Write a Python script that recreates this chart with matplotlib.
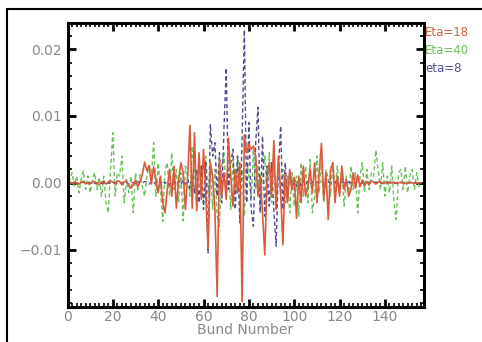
import numpy as np
import matplotlib
matplotlib.use("Agg")
import matplotlib.pyplot as plt
from matplotlib.ticker import MultipleLocator
from matplotlib.patches import Rectangle

bunch = list(range(157))

eta18 = [
    0, 0.0001, -0.0001, 0.0001, 0, -0.0002, 0.0001, 0.0002, -0.0001, 0,
    -0.0002, 0.0001, 0.0002, -0.0001, -0.0003, 0.0001, 0.0002, -0.0002, 0.0001, 0.0003,
    0.0001, -0.0002, 0.0003, 0.0002, -0.0003, 0.0001, 0.0003, -0.0004, -0.0008, -0.0003,
    0.0004, -0.0006, 0.0002, 0.0012, 0.0031, 0.0018, 0.0026, -0.0002, 0.0024, 0.0005,
    -0.0015, 0.0010, -0.0030, -0.0045, -0.0010, 0.0020, -0.0020, 0.0025, -0.0038, 0.0005,
    0.0030, 0.0015, -0.0040, 0.0010, 0.0086, -0.0038, 0.0075, -0.0042, 0.0045, -0.0025,
    0.0050, -0.0020, -0.0098, 0.0030, 0.0010, -0.0040, -0.0170, 0.0035, -0.0020, 0.0015,
    -0.0025, 0.0067, 0.0010, -0.0035, 0.0020, -0.0015, 0.0030, -0.0178, 0.0072, 0.0045,
    0.0058, 0.0050, 0.0055, 0.0040, -0.0020, 0.0010, -0.0045, -0.0108, 0.0005, 0.0030,
    -0.0020, 0.0063, -0.0040, 0.0040, -0.0015, -0.0093, 0.0015, -0.0030, 0.0020, -0.0010,
    0.0008, -0.0053, 0.0010, -0.0030, 0.0025, -0.0020, -0.0005, 0.0020, -0.0015, 0.0030,
    -0.0030, 0.0015, 0.0059, -0.0025, 0.0015, -0.0055, 0.0020, 0.0030, -0.0030, 0.0010,
    -0.0020, 0.0025, -0.0010, 0.0005, -0.0020, -0.0010, 0.0015, -0.0008, 0.0012, -0.0006,
    0.0004, -0.0005, 0.0002, -0.0003, 0.0003, 0.0001, -0.0002, 0.0001, 0.0002, -0.0001,
    0.0001, -0.0001, 0.0001, 0, 0.0001, -0.0001, 0, 0.0001, 0, -0.0001,
    0, 0.0001, 0, -0.0001, 0, 0, 0,
]

eta40 = [
    -0.0010, 0.0005, 0.0015, -0.0005, 0.0010, -0.0015, 0.0005, 0.0018, -0.0010, 0.0010,
    -0.0015, 0.0005, 0.0015, -0.0010, 0.0008, -0.0020, 0.0010, -0.0030, -0.0045, 0.0020,
    0.0075, -0.0020, 0.0015, 0.0010, 0.0040, -0.0030, 0.0005, -0.0015, 0.0010, -0.0045,
    0.0015, -0.0010, 0.0012, -0.0005, -0.0020, 0.0010, 0.0025, 0.0010, 0.0060, -0.0020,
    0.0030, -0.0010, -0.0058, 0.0020, 0.0030, -0.0020, 0.0045, -0.0010, 0.0020, -0.0030,
    0.0015, -0.0057, 0.0025, 0.0010, -0.0020, 0.0055, 0.0015, -0.0035, 0.0040, 0.0005,
    -0.0030, 0.0040, -0.0015, 0.0030, -0.0040, 0.0020, -0.0050, -0.0065, 0.0025, 0.0045,
    -0.0020, 0.0020, -0.0040, 0.0035, -0.0010, 0.0040, -0.0035, 0.0020, -0.0050, 0.0030,
    0.0010, -0.0025, 0.0050, -0.0010, 0.0025, -0.0040, 0.0010, 0.0040, -0.0020, 0.0045,
    -0.0030, 0.0025, -0.0040, 0.0030, -0.0015, 0.0020, -0.0030, 0.0010, -0.0045, 0.0015,
    -0.0035, 0.0010, -0.0050, 0.0030, -0.0020, 0.0025, -0.0030, 0.0035, -0.0045, -0.0020,
    0.0040, -0.0015, 0.0030, -0.0030, 0.0020, 0.0005, -0.0020, 0.0030, -0.0010, 0.0025,
    -0.0015, 0.0020, -0.0035, 0.0010, -0.0020, 0.0025, -0.0010, 0.0015, -0.0045, 0.0010,
    0.0030, -0.0015, 0.0020, -0.0010, 0.0015, 0.0010, 0.0049, 0.0020, -0.0010, 0.0030,
    -0.0020, 0.0010, -0.0015, 0.0025, -0.0030, -0.0055, 0.0015, 0.0020, -0.0010, 0.0025,
    -0.0015, 0.0010, 0.0020, -0.0010, 0.0015, -0.0005, -0.0010,
]

eta8 = [
    0, -0.0001, 0, 0.0001, 0, -0.0001, 0, 0.0001, 0, -0.0001,
    0, 0.0001, -0.0001, 0, 0.0001, -0.0001, 0, 0.0001, -0.0001, 0,
    0.0001, 0, -0.0001, 0.0001, 0, -0.0001, 0.0001, -0.0002, 0.0001, 0,
    -0.0002, 0.0001, 0.0002, -0.0001, 0.0002, 0.0001, -0.0002, 0.0002, -0.0001, 0.0001,
    0.0002, -0.0002, 0.0003, -0.0001, 0.0002, -0.0003, 0.0002, 0.0001, -0.0002, 0.0003,
    -0.0003, 0.0004, -0.0002, 0.0005, -0.0008, 0.0010, -0.0015, 0.0020, -0.0030, 0.0025,
    -0.0040, 0.0030, -0.0105, 0.0088, 0.0040, 0.0060, -0.0020, 0.0045, -0.0030, 0.0080,
    0.0172, -0.0010, 0.0030, 0.0050, -0.0040, 0.0040, -0.0060, 0.0065, 0.0229, -0.0030,
    0.0090, -0.0040, -0.0065, 0.0060, 0.0113, -0.0045, 0.0070, -0.0050, 0.0025, -0.0035,
    0.0030, -0.0040, -0.0095, 0.0020, 0.0085, -0.0040, 0.0030, -0.0020, 0.0015, -0.0010,
    0.0008, -0.0006, 0.0005, -0.0004, 0.0003, -0.0003, 0.0002, -0.0002, 0.0002, -0.0001,
    0.0001, -0.0001, 0.0001, 0, -0.0001, 0.0001, 0, -0.0001, 0.0001, 0,
    -0.0001, 0.0001, 0, -0.0001, 0.0001, 0, -0.0001, 0, 0.0001, 0,
    -0.0001, 0, 0.0001, 0, -0.0001, 0, 0.0001, 0, 0, -0.0001,
    0, 0.0001, 0, 0, -0.0001, 0, 0.0001, 0, 0, 0,
    0, 0, 0, 0, 0, 0, 0,
]

labels = ["Eta=18", "Eta=40", "eta=8"]
colors = ["#dc5a3c", "#6cc05a", "#4d4d8f"]

fig = plt.figure(figsize=(4.82, 3.42), dpi=100)
ax = fig.add_axes([67.5 / 482, 1 - 307 / 342, (423.5 - 67.5) / 482, (307 - 22.5) / 342])

ax.plot(bunch, eta40, color=colors[1], lw=1.0, ls=(0, (3, 2)))
ax.plot(bunch, eta8, color=colors[2], lw=1.0, ls=(0, (3, 2)))
ax.plot(bunch, eta18, color=colors[0], lw=1.2)

ax.set_xlim(0, 157)
ax.set_ylim(-0.0186, 0.024)
ax.xaxis.set_major_locator(MultipleLocator(20))
ax.xaxis.set_minor_locator(MultipleLocator(2))
ax.yaxis.set_major_locator(MultipleLocator(0.01))
ax.yaxis.set_minor_locator(MultipleLocator(0.002))
ax.set_yticks([-0.01, 0.0, 0.01, 0.02])
ax.set_yticklabels(["\u22120.01", "0.00", "0.01", "0.02"])
ax.set_xticks([0, 20, 40, 60, 80, 100, 120, 140])

for s in ax.spines.values():
    s.set_linewidth(2.2)
ax.tick_params(which="both", direction="in", top=True, right=True,
               labelcolor="#888888", labelsize=10, color="black")
ax.tick_params(which="major", length=6, width=2)
ax.tick_params(which="minor", length=3, width=1.2)
ax.tick_params(axis="x", pad=2)
ax.tick_params(axis="y", pad=4)
ax.set_xlabel("Bund Number", color="#888888", fontsize=10, labelpad=-0.5)

for i, (lab, c) in enumerate(zip(labels, colors)):
    fig.text(425 / 482, 1 - (33 + 17.5 * i) / 342, lab, color=c, fontsize=8.5,
             va="center", ha="left")

fig.patches.append(Rectangle((7 / 482, -0.2), 1.5, 0.2 + (1 - 9 / 342),
                             transform=fig.transFigure, fill=False,
                             lw=1.5, edgecolor="black", clip_on=False))

fig.savefig("out.png", dpi=100)
